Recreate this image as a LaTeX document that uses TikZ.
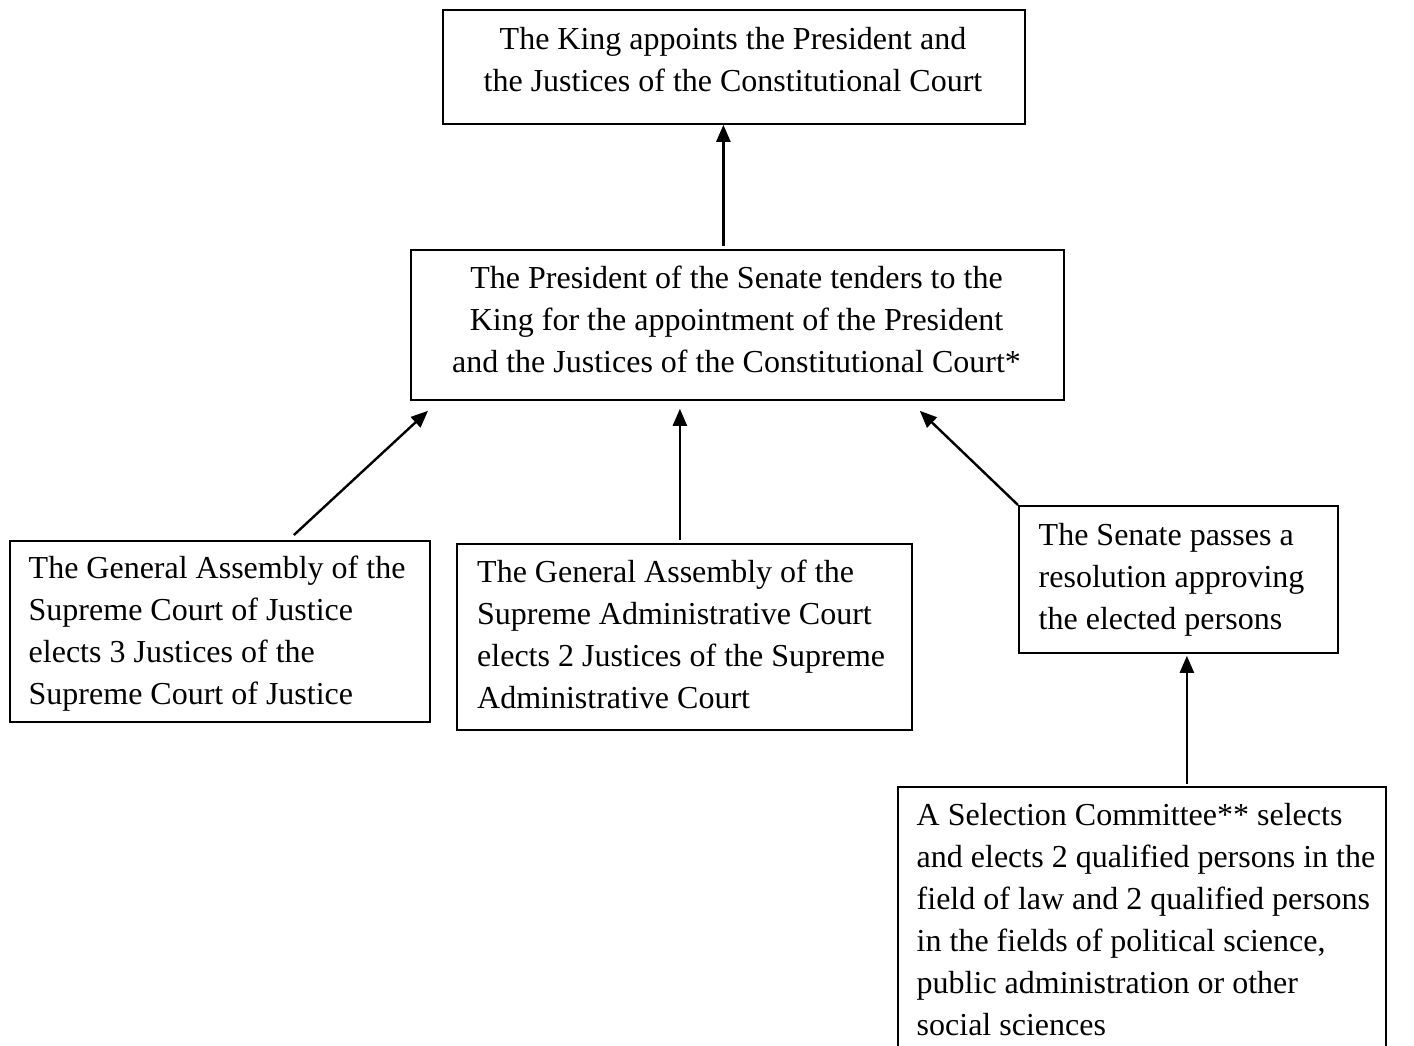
\documentclass[tikz,border=0pt]{standalone}
\usepackage{fontspec}
\setmainfont{Liberation Serif}
\usetikzlibrary{arrows.meta}
\begin{document}
\begin{tikzpicture}[x=1pt,y=-1pt,
  box/.style={draw=black,line width=1.8pt,inner sep=0pt,anchor=north west},
  txt/.style={inner sep=0pt,font=\fontsize{32}{42}\selectfont},
  ltxt/.style={txt,align=left,anchor=north west},
  ctxt/.style={txt,align=center,anchor=north},
  arr/.style={line width=2.4pt,-{Triangle[length=17pt,width=14pt]}}]
\path[use as bounding box] (0,0) rectangle (1414,1046);
\clip (0,0) rectangle (1414,1046);
% boxes
\node[box,minimum width=582pt,minimum height=114pt] (top) at (442,9) {};
\node[box,minimum width=653pt,minimum height=150pt] (mid) at (410,249) {};
\node[box,minimum width=420pt,minimum height=181pt] (left) at (9,540) {};
\node[box,minimum width=455pt,minimum height=186pt] (cbox) at (456,543) {};
\node[box,minimum width=319pt,minimum height=147pt] (rbox) at (1018,505) {};
\node[box,minimum width=488pt,minimum height=280pt] (bbox) at (897,786) {};
% texts
\node[ctxt] (toptext) at (733,27)
  {The King appoints the President and\\the Justices of the Constitutional Court};
\node[ctxt] (midtext) at (736.5,266)
  {The President of the Senate tenders to the\\King for the appointment of the President\\and the Justices of the Constitutional Court*};
\node[ltxt] (lefttext) at (28.5,556)
  {The General Assembly of the\\Supreme Court of Justice\\elects 3 Justices of the\\Supreme Court of Justice};
\node[ltxt] (ctext) at (477,560)
  {The General Assembly of the\\Supreme Administrative Court\\elects 2 Justices of the Supreme\\Administrative Court};
\node[ltxt] (rtext) at (1038.5,523)
  {The Senate passes a\\resolution approving\\the elected persons};
\node[ltxt] (btext) at (916.5,803)
  {A Selection Committee** selects\\and elects 2 qualified persons in the\\field of law and 2 qualified persons\\in the fields of political science,\\public administration or other\\social sciences};
% connectors
\draw[arr] ([xshift=-14pt,yshift=3pt]mid.north) -- ([xshift=-14pt]mid.north |- top.south);
\draw[arr] ([xshift=74pt,yshift=5pt]left.north) -- ([xshift=18pt,yshift=-10pt]mid.south west);
\draw[arr] ([xshift=-4.5pt,yshift=3pt]cbox.north) -- ([xshift=-4.5pt,yshift=-8pt]cbox.north |- mid.south);
\draw[arr] (rbox.north west) -- ([xshift=-145pt,yshift=-10pt]mid.south east);
\draw[arr] ([xshift=8.5pt,yshift=2pt]rbox.south |- bbox.north) -- ([xshift=8.5pt,yshift=-2pt]rbox.south);
\end{tikzpicture}
\end{document}
